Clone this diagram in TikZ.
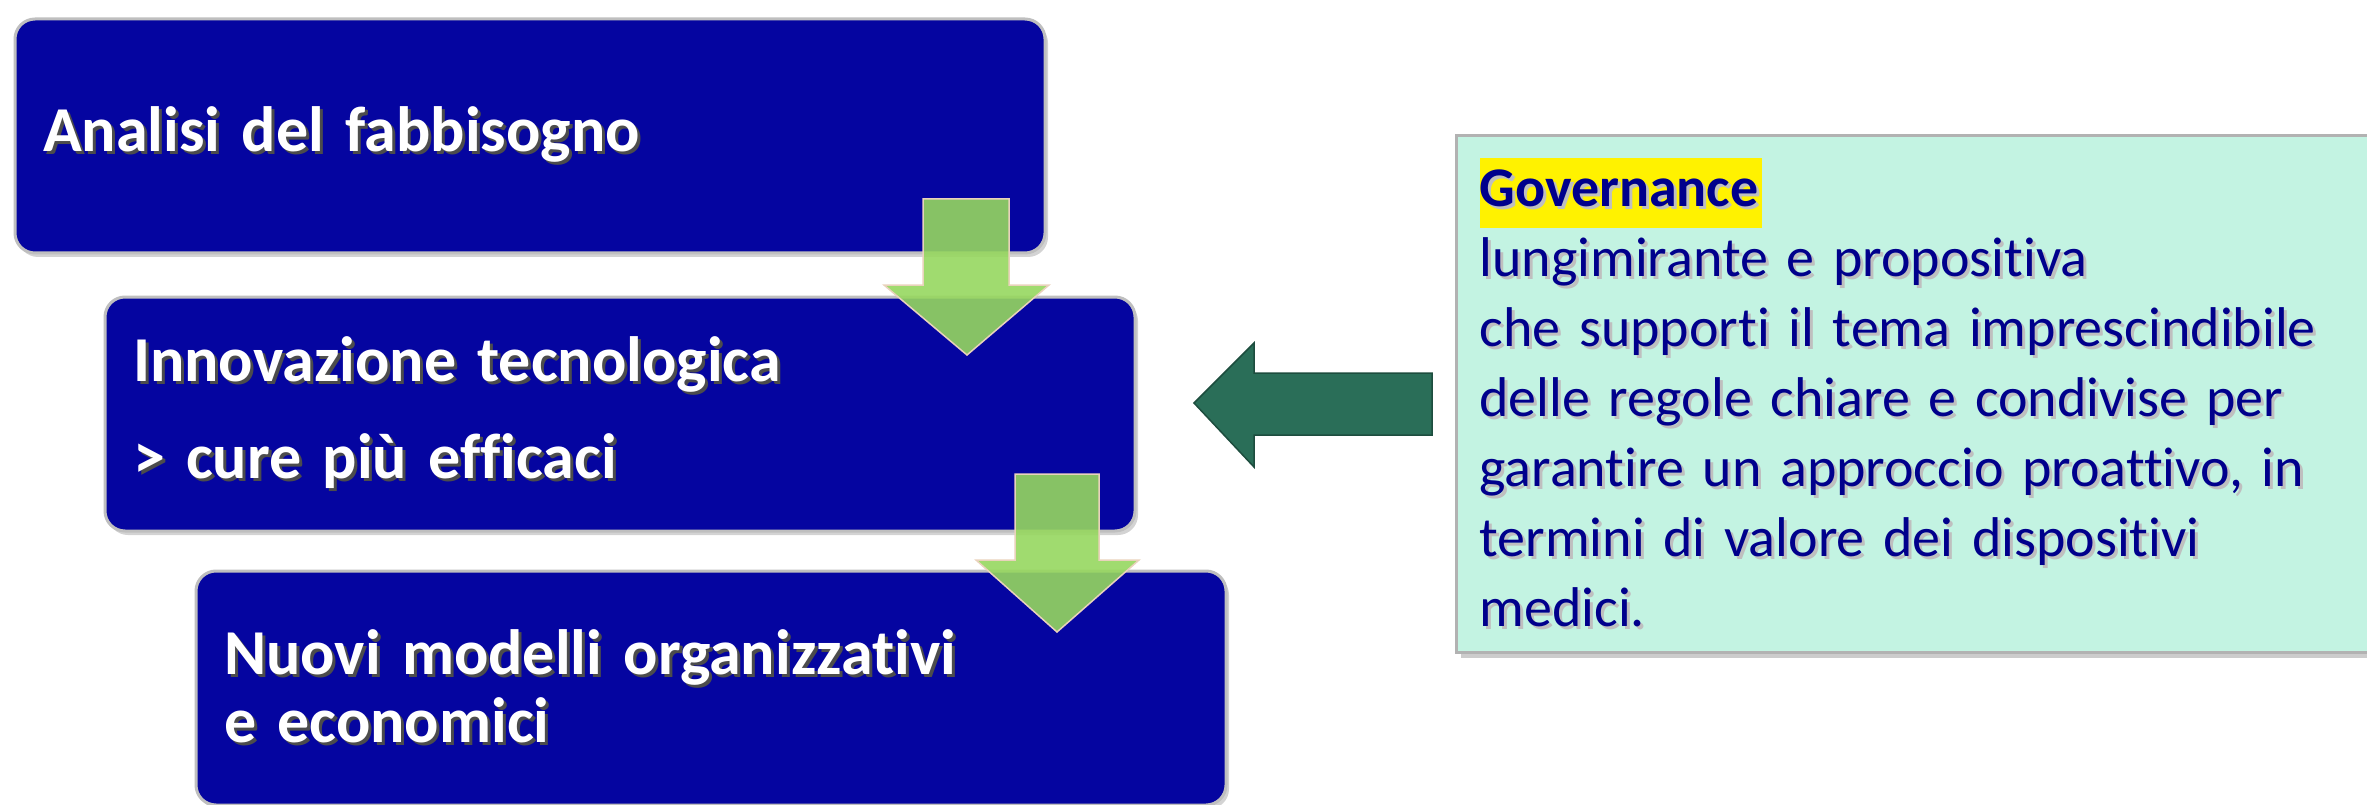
\documentclass[tikz,border=0pt]{standalone}
\usepackage{fontspec}
\setmainfont{Carlito}[Ligatures={NoCommon}]
\usetikzlibrary{shadows}
\definecolor{boxblue}{RGB}{5,5,160}
\definecolor{govfill}{RGB}{195,243,226}
\definecolor{govtext}{RGB}{0,0,140}
\definecolor{lightgreen}{RGB}{150,215,95}
\definecolor{darkgreen}{RGB}{42,110,88}
\newcommand{\shadowtext}[2][black!25]{\makebox[0pt][l]{\raisebox{-3pt}{\kern3pt\textcolor{#1}{#2}}}#2}
\newcommand{\darkshadow}[1]{\shadowtext[black!70]{#1}}

\begin{document}
\begin{tikzpicture}[x=1pt, y=-1pt,
    stepbox/.style={draw=black!25, line width=3pt, fill=boxblue, rounded corners=20pt,
      minimum width=1030pt, minimum height=234pt, text width=974pt, inner xsep=28pt,
      align=left, text=white, font=\bfseries\fontsize{64}{97}\selectfont,
      drop shadow={shadow xshift=3pt, shadow yshift=-4pt, opacity=.35}},
    govbox/.style={draw=black!30, line width=3pt, fill=govfill,
      minimum width=943pt, minimum height=517pt, text width=897pt, inner xsep=23pt,
      align=left, text=govtext, font=\fontsize{56}{70}\selectfont,
      drop shadow={shadow xshift=4pt, shadow yshift=-5pt, opacity=.4}},
    greenarrow/.style={fill=lightgreen, draw=brown!35, line width=1.5pt, fill opacity=.9},
    darkarrow/.style={fill=darkgreen, draw=darkgreen!70!black, line width=1.5pt}]
  \useasboundingbox (0,0) rectangle (2367,805);
  % left column
  \node[stepbox] (analisi) at (530,136) {\darkshadow{Analisi del fabbisogno}};
  \node[stepbox] (innov) at (620,414) {\darkshadow{Innovazione tecnologica}\\
    \darkshadow{> cure più efficaci}};
  \node[stepbox, font=\bfseries\fontsize{64}{68}\selectfont] (modelli) at (711,688)
    {\darkshadow{Nuovi modelli organizzativi}\\ \darkshadow{e economici}};
  % right box
  \node[govbox] (gov) at (1928,394)
    {\setlength\fboxsep{0pt}\colorbox{yellow}{\strut\textbf{\shadowtext{Governance}}\kern3pt}\\
     \shadowtext{lungimirante e propositiva}\\
     \shadowtext{che supporti il tema imprescindibile}\\
     \shadowtext{delle regole chiare e condivise per}\\
     \shadowtext{garantire un approccio proattivo, in}\\
     \shadowtext{termini di valore dei dispositivi}\\
     \shadowtext{medici.}};
  % arrows
  \filldraw[greenarrow] (923,199) -- (1009,199) -- (1009,285) -- (1049,285) -- (967,355)
    -- (884,285) -- (923,285) -- cycle;
  \filldraw[greenarrow] (1015,474) -- (1099,474) -- (1099,560) -- (1139,560) -- (1057,632)
    -- (976,560) -- (1015,560) -- cycle;
  \filldraw[darkarrow] (1432,373) -- (1254,373) -- (1254,343) -- (1194,403) -- (1254,467)
    -- (1254,435) -- (1432,435) -- cycle;
\end{tikzpicture}
\end{document}
